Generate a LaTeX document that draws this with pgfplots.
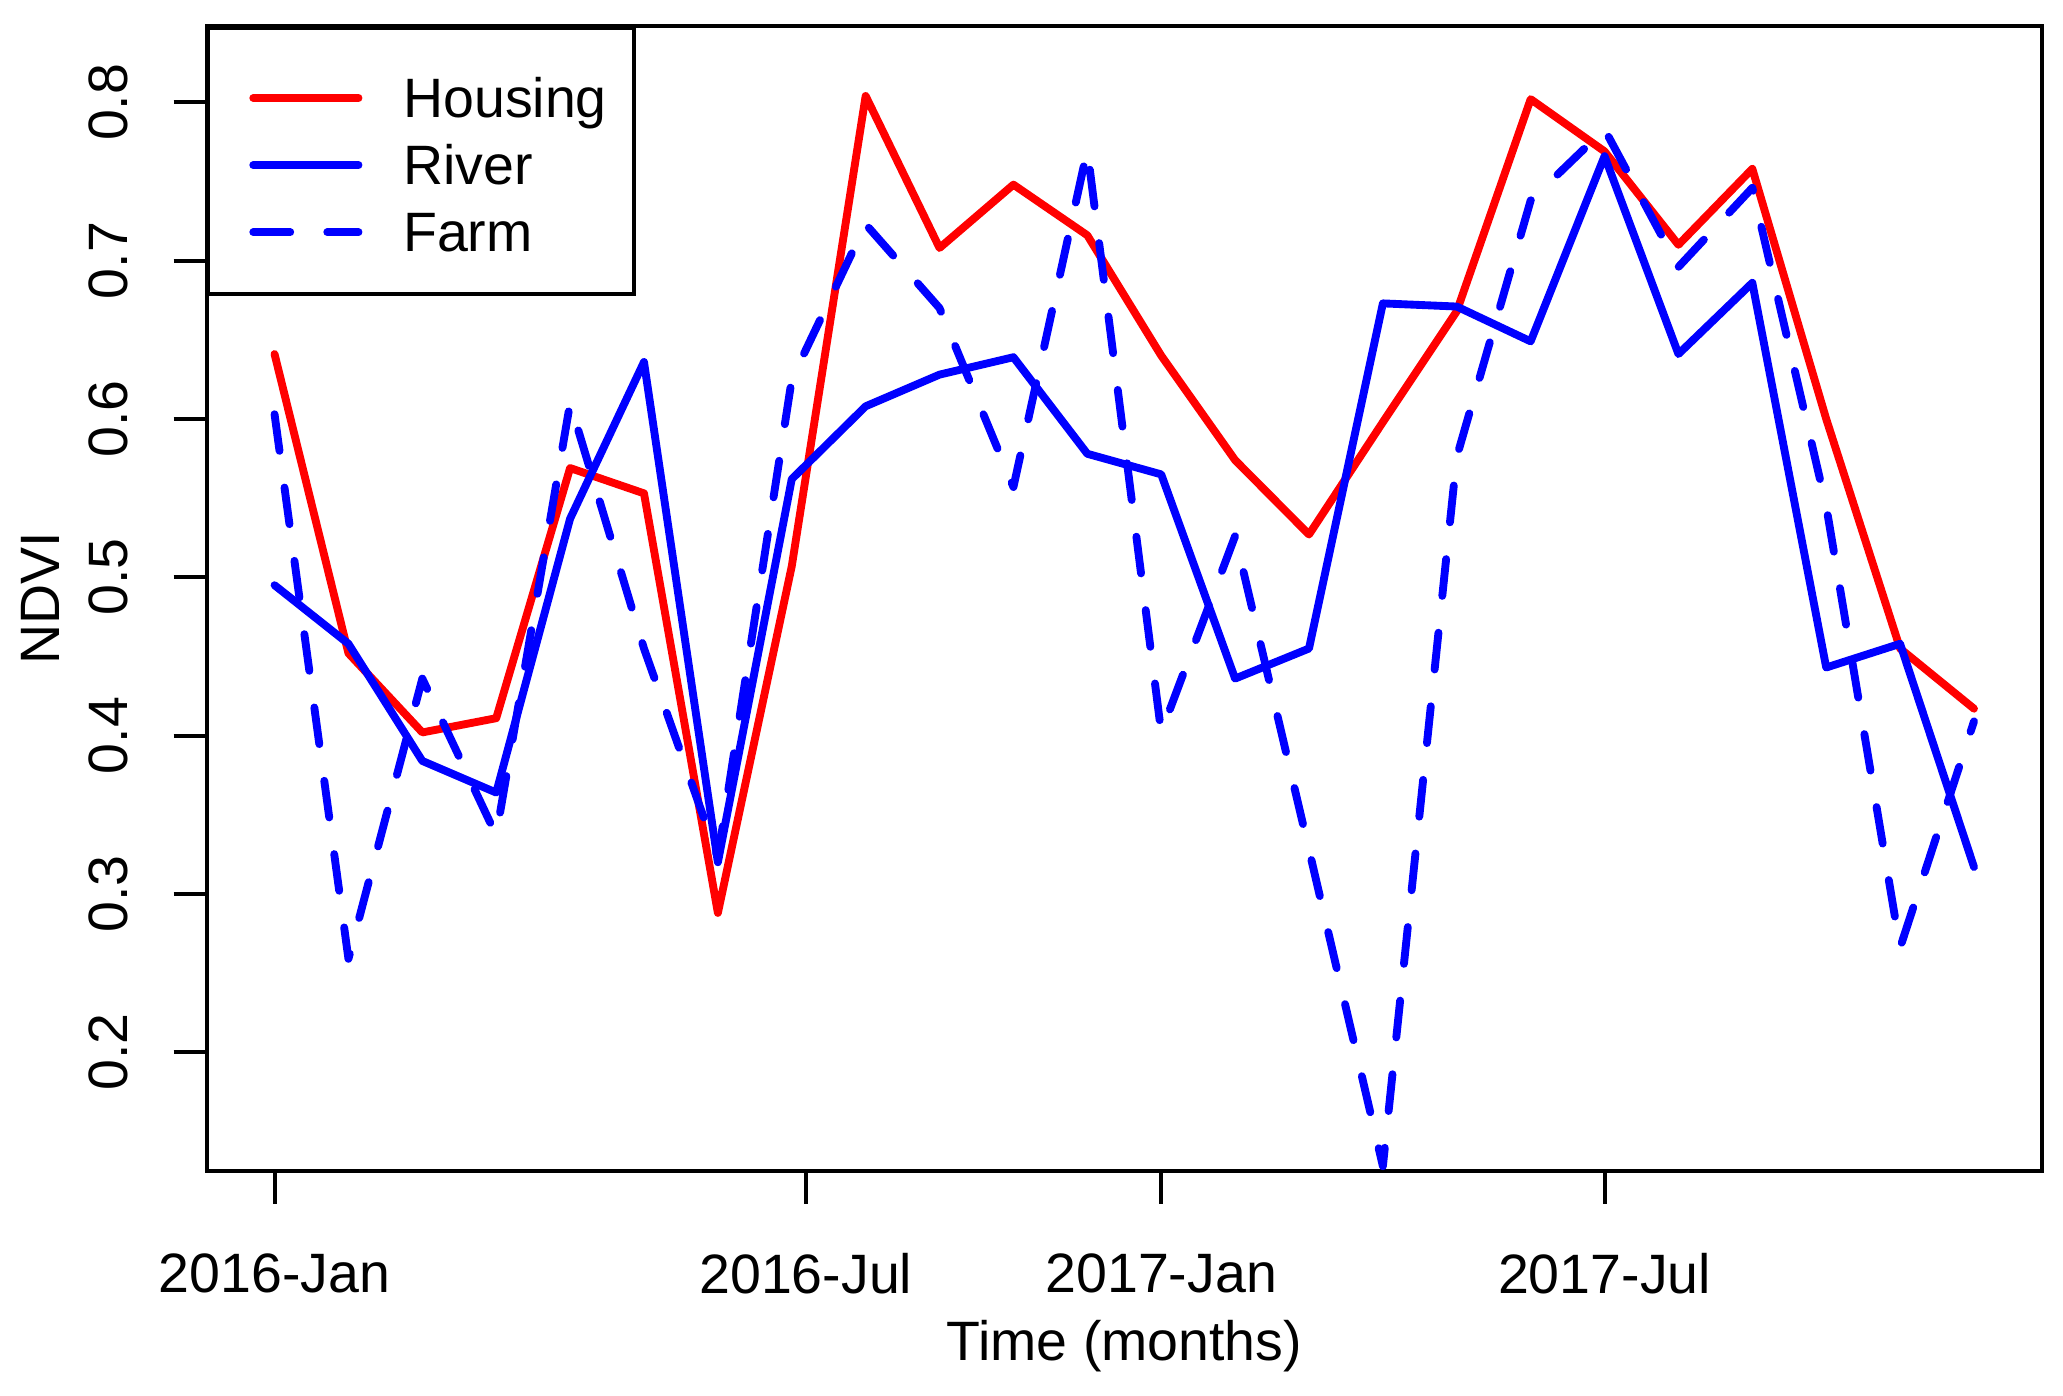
\documentclass[border=0pt]{standalone}
\usepackage{pgfplots}
\pgfplotsset{compat=1.18}
\usepackage{fontspec}
\setmainfont{Liberation Sans}
\definecolor{rred}{RGB}{255,0,0}
\definecolor{rblue}{RGB}{0,0,255}
\begin{document}
\fontsize{12pt}{14pt}\selectfont
\begin{tikzpicture}
\useasboundingbox (-1.57cm,-1.71cm) rectangle (14.11cm,8.90cm);
\begin{axis}[
  at={(0,0)}, anchor=south west,
  width=13.95cm, height=8.70cm, scale only axis,
  xmin=-0.92, xmax=23.92, ymin=0.125, ymax=0.848,
  axis line style={line width=0.85pt},
  tick style={line width=0.85pt, black},
  tick align=outside, major tick length=0.25cm,
  xtick pos=bottom, ytick pos=left,
  xtick={0,7.19,12,18},
  xticklabels={2016-Jan,2016-Jul,2017-Jan,2017-Jul},
  ytick={0.2,0.3,0.4,0.5,0.6,0.7,0.8},
  yticklabels={0.2,0.3,0.4,0.5,0.6,0.7,0.8},
  tick label style={font=\fontsize{12pt}{14pt}\selectfont},
  xticklabel style={yshift=-0.37cm, anchor=north, inner sep=0pt},
  yticklabel style={xshift=-0.34cm, rotate=90, anchor=south, inner sep=0pt},
  xlabel={Time (months)},
  ylabel={NDVI},
  label style={font=\fontsize{12pt}{14pt}\selectfont},
  xlabel style={at={(axis description cs:0.5,-0.1655)}, anchor=base, inner sep=0pt},
  ylabel style={at={(axis description cs:-0.0803,0.5)}, anchor=base, inner sep=0pt},
  legend style={at={(0,1)}, anchor=north west, draw=black, line width=0.85pt,
    inner xsep=0.21cm, inner ysep=0.245cm, row sep=0pt, column sep=0.31cm,
    font=\fontsize{12pt}{14pt}\selectfont,
    nodes={inner sep=0pt, text height=0.43cm, text depth=0.08cm}},
  legend cell align=left,
  legend image code/.code={\path[draw=none, fill=none] (0cm,-0.03cm) -- (0.01cm,-0.03cm);
    \draw[#1] (0.13cm,-0.03cm) -- (0.93cm,-0.03cm);},
  every axis plot/.append style={line width=1.7pt, line join=round, line cap=round},
]
\addplot[rred] coordinates {
(0,0.641) (1,0.452) (2,0.402) (3,0.411) (4,0.569) (5,0.553) (6,0.288) (7,0.507)
(8,0.804) (9,0.708) (10,0.748) (11,0.716) (12,0.640) (13,0.574) (14,0.527) (15,0.598)
(16,0.668) (17,0.802) (18,0.769) (19,0.710) (20,0.758) (21,0.600) (22,0.455) (23,0.417)};
\addlegendentry{Housing}
\addplot[rblue] coordinates {
(0,0.495) (1,0.458) (2,0.384) (3,0.364) (4,0.537) (5,0.636) (6,0.320) (7,0.562)
(8,0.608) (9,0.628) (10,0.639) (11,0.578) (12,0.565) (13,0.436) (14,0.455) (15,0.673)
(16,0.671) (17,0.649) (18,0.766) (19,0.641) (20,0.686) (21,0.443) (22,0.458) (23,0.317)};
\addlegendentry{River}
\addplot[rblue, dash pattern=on 8pt off 8pt] coordinates {
(0,0.603) (1,0.259) (2,0.436) (3,0.337) (4,0.610) (5,0.455) (6,0.323) (7,0.625)
(8,0.723) (9,0.670) (10,0.557) (11,0.770) (12,0.402) (13,0.526) (14,0.328) (15,0.128)
(16,0.576) (17,0.738) (18,0.783) (19,0.696) (20,0.746) (21,0.545) (22,0.266) (23,0.409)};
\addlegendentry{Farm}
\end{axis}
\end{tikzpicture}
\end{document}
